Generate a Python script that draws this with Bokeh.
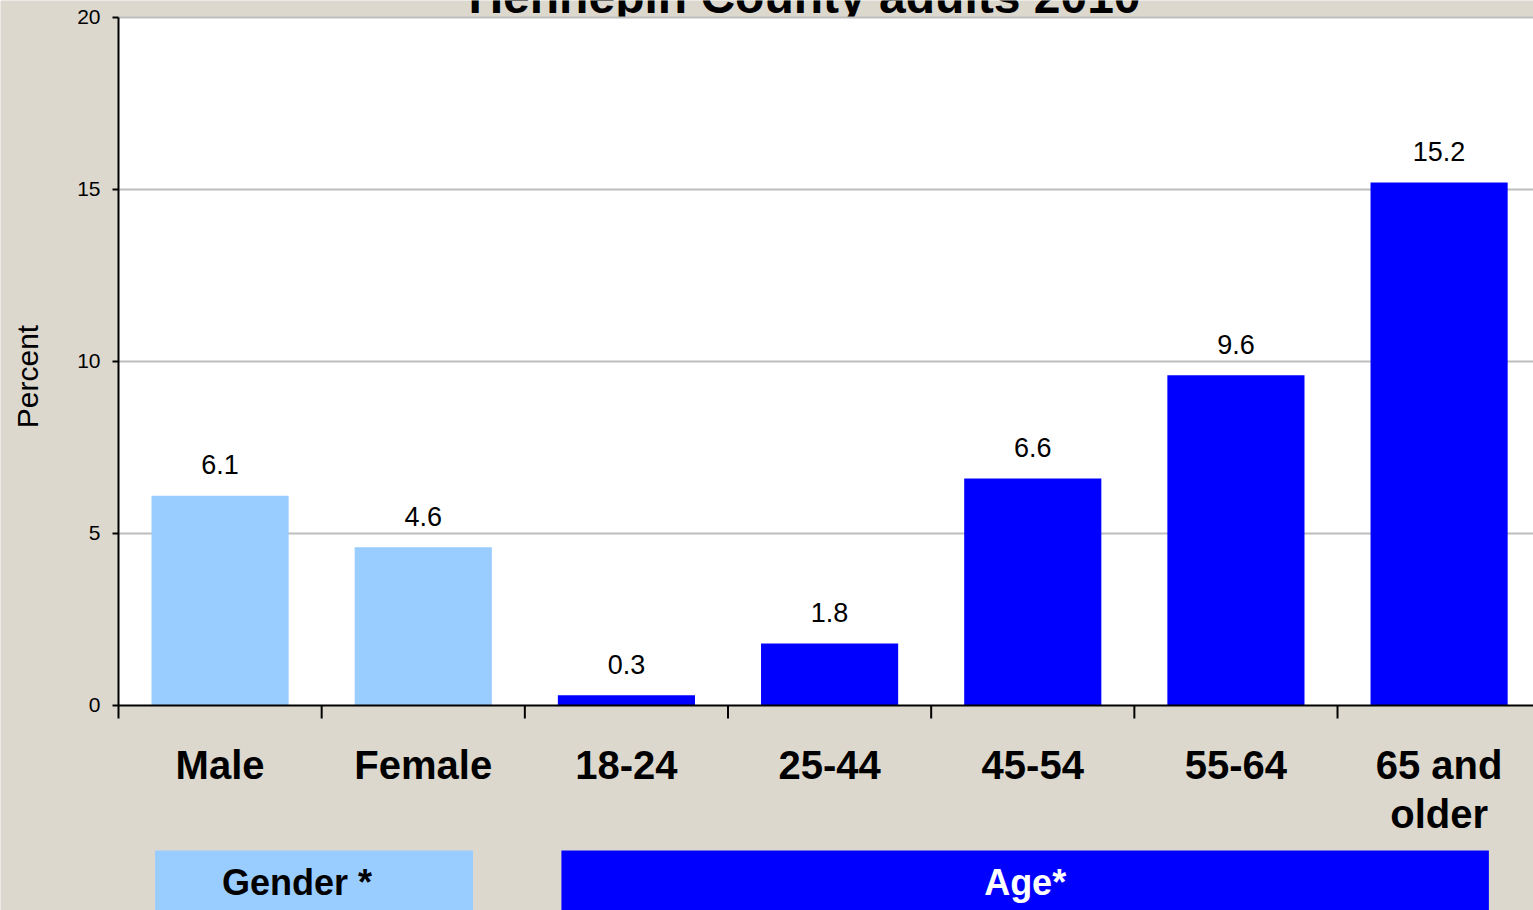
import math
from bokeh.plotting import figure
from bokeh.models import Range1d
from bokeh.embed import file_html
from bokeh.resources import INLINE
from bokeh.core.properties import value

# ---------------- data ----------------
title_text = "Hennepin County adults 2010"
categories = ["Male", "Female", "18-24", "25-44", "45-54", "55-64", "65 and\nolder"]
percent = [6.1, 4.6, 0.3, 1.8, 6.6, 9.6, 15.2]
groups = ["Gender *", "Age*"]
group_members = [[0, 1], [2, 3, 4, 5, 6]]
y_ticks = [0, 5, 10, 15, 20]
y_label = "Percent"

# ---------------- style ----------------
FONT = value("Liberation Sans")
BG = "#DCD8CE"
group_fill = ["#99CCFF", "#0000FF"]
group_text = ["black", "white"]
group_text_shift = [-17, 0]
GRID = "#BEBEBE"

W, H = 1533, 910
LEFT = 118       # canvas x of the value axis
PX_Y = 34.4      # pixels per percent
PX_X = 203.17    # pixels per category
Y0 = 705         # canvas y of value 0
y_start = -(H - Y0) / PX_Y
y_end = Y0 / PX_Y
x_start = -LEFT / PX_X
x_end = (W - LEFT) / PX_X
BASE = 0.37      # baseline correction (fraction of font size)


def ypx(py, size):
    """data y for a text whose baseline should sit at canvas y = py"""
    return (Y0 - (py - BASE * size)) / PX_Y


def xpx(px):
    return (px - LEFT) / PX_X


bar_colors = [None] * len(categories)
for g, members in enumerate(group_members):
    for m in members:
        bar_colors[m] = group_fill[g]

p = figure(width=W, height=H, output_backend="svg", toolbar_location=None,
           x_range=Range1d(x_start, x_end), y_range=Range1d(y_start, y_end),
           x_axis_location=None, y_axis_location=None,
           min_border_left=0, min_border_right=0, min_border_top=0, min_border_bottom=0,
           background_fill_color=BG, border_fill_color=BG, outline_line_color=None)
p.xgrid.visible = False
p.ygrid.visible = False

# title (partially cut off at top)
p.text(x=[xpx(804)], y=[ypx(13.5, 48)], text=[title_text],
       text_font=FONT, text_font_style="bold", text_font_size="48px",
       text_align="center", text_baseline="alphabetic", text_color="black", level="image")

# white plot area
p.quad(left=[0], right=[x_end + 1], bottom=[0], top=[max(y_ticks)],
       fill_color="white", line_color=None, level="image")

# horizontal grid lines
gy = y_ticks[1:]
p.segment(x0=[0] * len(gy), y0=gy, x1=[x_end + 1] * len(gy), y1=gy,
          line_color=GRID, line_width=2, level="underlay")

# bars
xs = [i + 0.5 for i in range(len(categories))]
p.vbar(x=xs, top=percent, bottom=0, width=0.675, fill_color=bar_colors, line_color=None)

# x axis line + ticks at y=0
p.segment(x0=[0], y0=[0], x1=[x_end + 1], y1=[0], line_color="black", line_width=2)
tick_x = list(range(len(categories) + 1))
p.segment(x0=tick_x, y0=[0] * len(tick_x), x1=tick_x, y1=[-13 / PX_Y] * len(tick_x),
          line_color="black", line_width=2)

# y axis line + ticks + tick labels
p.segment(x0=[0], y0=[min(y_ticks)], x1=[0], y1=[max(y_ticks)], line_color="black", line_width=2)
p.segment(x0=[0] * len(y_ticks), y0=y_ticks, x1=[-6 / PX_X] * len(y_ticks), y1=y_ticks,
          line_color="black", line_width=2)
p.text(x=[-18 / PX_X] * len(y_ticks), y=[t - (0.358 * 21 - BASE * 21) / PX_Y for t in y_ticks],
       text=[str(t) for t in y_ticks], text_font=FONT, text_font_size="21px",
       text_align="right", text_baseline="alphabetic", text_color="black")

# y axis title (rotated)
p.text(x=[xpx(38 - BASE * 30)], y=[(Y0 - 376) / PX_Y], text=[y_label], angle=math.pi / 2,
       text_font=FONT, text_font_size="30px", text_align="center",
       text_baseline="alphabetic", text_color="black")

# value labels
p.text(x=xs, y=[v + (21 + BASE * 27) / PX_Y for v in percent], text=[f"{v:.1f}" for v in percent],
       text_font=FONT, text_font_size="27px", text_align="center",
       text_baseline="alphabetic", text_color="black")

# category labels
cx, cy, ct = [], [], []
for i, c in enumerate(categories):
    for k, line in enumerate(c.split("\n")):
        cx.append(xs[i])
        cy.append(ypx(779 + 49 * k, 40))
        ct.append(line)
p.text(x=cx, y=cy, text=ct, text_font=FONT, text_font_style="bold", text_font_size="40px",
       text_align="center", text_baseline="alphabetic", text_color="black")

# group boxes
gl = [min(m) + 0.18 for m in group_members]
gr = [max(m) + 1 - 0.255 for m in group_members]
p.quad(left=gl, right=gr, top=[(Y0 - 850) / PX_Y] * len(groups), bottom=[y_start - 1] * len(groups),
       fill_color=group_fill, line_color=None)
p.text(x=[(a + b) / 2 for a, b in zip(gl, gr)], y=[ypx(895, 36)] * len(groups), text=groups,
       x_offset=group_text_shift,
       text_font=FONT, text_font_style="bold", text_font_size="36px",
       text_align="center", text_baseline="alphabetic", text_color=group_text)

open("out.html", "w").write(file_html(p, INLINE))
